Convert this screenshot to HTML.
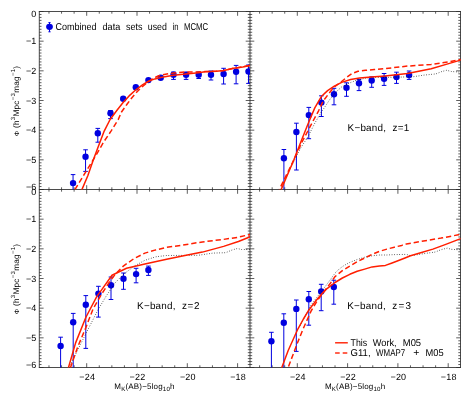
<!DOCTYPE html>
<html><head><meta charset="utf-8"><title>K-band luminosity function</title>
<style>
html,body{margin:0;padding:0;background:#fff;}
body{width:472px;height:393px;overflow:hidden;}
svg{display:block;}
text{font-family:"Liberation Sans",sans-serif;fill:#000;white-space:pre;text-rendering:geometricPrecision;}
</style></head><body>
<svg width="472" height="393" viewBox="0 0 472 393">
<rect width="472" height="393" fill="#fff"/>
<defs><filter id="gs" filterUnits="userSpaceOnUse" x="0" y="0" width="472" height="393" color-interpolation-filters="sRGB"><feColorMatrix type="saturate" values="0"/></filter>
<clipPath id="c0"><rect x="39.3" y="11.5" width="210.7" height="178.0"/></clipPath>
<clipPath id="c1"><rect x="250.0" y="11.5" width="210.5" height="178.0"/></clipPath>
<clipPath id="c2"><rect x="39.3" y="189.5" width="210.7" height="178.0"/></clipPath>
<clipPath id="c3"><rect x="250.0" y="189.5" width="210.5" height="178.0"/></clipPath>
</defs>
<path d="M39.30 11.50H43.60M39.30 14.47H41.50M39.30 17.43H41.50M39.30 20.40H41.50M39.30 23.37H41.50M39.30 26.33H41.50M39.30 29.30H41.50M39.30 32.27H41.50M39.30 35.23H41.50M39.30 38.20H41.50M39.30 41.17H43.60M39.30 44.13H41.50M39.30 47.10H41.50M39.30 50.07H41.50M39.30 53.03H41.50M39.30 56.00H41.50M39.30 58.97H41.50M39.30 61.93H41.50M39.30 64.90H41.50M39.30 67.87H41.50M39.30 70.83H43.60M39.30 73.80H41.50M39.30 76.77H41.50M39.30 79.73H41.50M39.30 82.70H41.50M39.30 85.67H41.50M39.30 88.63H41.50M39.30 91.60H41.50M39.30 94.57H41.50M39.30 97.53H41.50M39.30 100.50H43.60M39.30 103.47H41.50M39.30 106.43H41.50M39.30 109.40H41.50M39.30 112.37H41.50M39.30 115.33H41.50M39.30 118.30H41.50M39.30 121.27H41.50M39.30 124.23H41.50M39.30 127.20H41.50M39.30 130.17H43.60M39.30 133.13H41.50M39.30 136.10H41.50M39.30 139.07H41.50M39.30 142.03H41.50M39.30 145.00H41.50M39.30 147.97H41.50M39.30 150.93H41.50M39.30 153.90H41.50M39.30 156.87H41.50M39.30 159.83H43.60M39.30 162.80H41.50M39.30 165.77H41.50M39.30 168.73H41.50M39.30 171.70H41.50M39.30 174.67H41.50M39.30 177.63H41.50M39.30 180.60H41.50M39.30 183.57H41.50M39.30 186.53H41.50M39.30 189.50H43.60M245.70 11.50H254.30M247.80 14.47H252.20M247.80 17.43H252.20M247.80 20.40H252.20M247.80 23.37H252.20M247.80 26.33H252.20M247.80 29.30H252.20M247.80 32.27H252.20M247.80 35.23H252.20M247.80 38.20H252.20M245.70 41.17H254.30M247.80 44.13H252.20M247.80 47.10H252.20M247.80 50.07H252.20M247.80 53.03H252.20M247.80 56.00H252.20M247.80 58.97H252.20M247.80 61.93H252.20M247.80 64.90H252.20M247.80 67.87H252.20M245.70 70.83H254.30M247.80 73.80H252.20M247.80 76.77H252.20M247.80 79.73H252.20M247.80 82.70H252.20M247.80 85.67H252.20M247.80 88.63H252.20M247.80 91.60H252.20M247.80 94.57H252.20M247.80 97.53H252.20M245.70 100.50H254.30M247.80 103.47H252.20M247.80 106.43H252.20M247.80 109.40H252.20M247.80 112.37H252.20M247.80 115.33H252.20M247.80 118.30H252.20M247.80 121.27H252.20M247.80 124.23H252.20M247.80 127.20H252.20M245.70 130.17H254.30M247.80 133.13H252.20M247.80 136.10H252.20M247.80 139.07H252.20M247.80 142.03H252.20M247.80 145.00H252.20M247.80 147.97H252.20M247.80 150.93H252.20M247.80 153.90H252.20M247.80 156.87H252.20M245.70 159.83H254.30M247.80 162.80H252.20M247.80 165.77H252.20M247.80 168.73H252.20M247.80 171.70H252.20M247.80 174.67H252.20M247.80 177.63H252.20M247.80 180.60H252.20M247.80 183.57H252.20M247.80 186.53H252.20M245.70 189.50H254.30M456.20 11.50H460.50M458.30 14.47H460.50M458.30 17.43H460.50M458.30 20.40H460.50M458.30 23.37H460.50M458.30 26.33H460.50M458.30 29.30H460.50M458.30 32.27H460.50M458.30 35.23H460.50M458.30 38.20H460.50M456.20 41.17H460.50M458.30 44.13H460.50M458.30 47.10H460.50M458.30 50.07H460.50M458.30 53.03H460.50M458.30 56.00H460.50M458.30 58.97H460.50M458.30 61.93H460.50M458.30 64.90H460.50M458.30 67.87H460.50M456.20 70.83H460.50M458.30 73.80H460.50M458.30 76.77H460.50M458.30 79.73H460.50M458.30 82.70H460.50M458.30 85.67H460.50M458.30 88.63H460.50M458.30 91.60H460.50M458.30 94.57H460.50M458.30 97.53H460.50M456.20 100.50H460.50M458.30 103.47H460.50M458.30 106.43H460.50M458.30 109.40H460.50M458.30 112.37H460.50M458.30 115.33H460.50M458.30 118.30H460.50M458.30 121.27H460.50M458.30 124.23H460.50M458.30 127.20H460.50M456.20 130.17H460.50M458.30 133.13H460.50M458.30 136.10H460.50M458.30 139.07H460.50M458.30 142.03H460.50M458.30 145.00H460.50M458.30 147.97H460.50M458.30 150.93H460.50M458.30 153.90H460.50M458.30 156.87H460.50M456.20 159.83H460.50M458.30 162.80H460.50M458.30 165.77H460.50M458.30 168.73H460.50M458.30 171.70H460.50M458.30 174.67H460.50M458.30 177.63H460.50M458.30 180.60H460.50M458.30 183.57H460.50M458.30 186.53H460.50M456.20 189.50H460.50M39.30 189.50H43.60M39.30 192.47H41.50M39.30 195.43H41.50M39.30 198.40H41.50M39.30 201.37H41.50M39.30 204.33H41.50M39.30 207.30H41.50M39.30 210.27H41.50M39.30 213.23H41.50M39.30 216.20H41.50M39.30 219.17H43.60M39.30 222.13H41.50M39.30 225.10H41.50M39.30 228.07H41.50M39.30 231.03H41.50M39.30 234.00H41.50M39.30 236.97H41.50M39.30 239.93H41.50M39.30 242.90H41.50M39.30 245.87H41.50M39.30 248.83H43.60M39.30 251.80H41.50M39.30 254.77H41.50M39.30 257.73H41.50M39.30 260.70H41.50M39.30 263.67H41.50M39.30 266.63H41.50M39.30 269.60H41.50M39.30 272.57H41.50M39.30 275.53H41.50M39.30 278.50H43.60M39.30 281.47H41.50M39.30 284.43H41.50M39.30 287.40H41.50M39.30 290.37H41.50M39.30 293.33H41.50M39.30 296.30H41.50M39.30 299.27H41.50M39.30 302.23H41.50M39.30 305.20H41.50M39.30 308.17H43.60M39.30 311.13H41.50M39.30 314.10H41.50M39.30 317.07H41.50M39.30 320.03H41.50M39.30 323.00H41.50M39.30 325.97H41.50M39.30 328.93H41.50M39.30 331.90H41.50M39.30 334.87H41.50M39.30 337.83H43.60M39.30 340.80H41.50M39.30 343.77H41.50M39.30 346.73H41.50M39.30 349.70H41.50M39.30 352.67H41.50M39.30 355.63H41.50M39.30 358.60H41.50M39.30 361.57H41.50M39.30 364.53H41.50M39.30 367.50H43.60M245.70 189.50H254.30M247.80 192.47H252.20M247.80 195.43H252.20M247.80 198.40H252.20M247.80 201.37H252.20M247.80 204.33H252.20M247.80 207.30H252.20M247.80 210.27H252.20M247.80 213.23H252.20M247.80 216.20H252.20M245.70 219.17H254.30M247.80 222.13H252.20M247.80 225.10H252.20M247.80 228.07H252.20M247.80 231.03H252.20M247.80 234.00H252.20M247.80 236.97H252.20M247.80 239.93H252.20M247.80 242.90H252.20M247.80 245.87H252.20M245.70 248.83H254.30M247.80 251.80H252.20M247.80 254.77H252.20M247.80 257.73H252.20M247.80 260.70H252.20M247.80 263.67H252.20M247.80 266.63H252.20M247.80 269.60H252.20M247.80 272.57H252.20M247.80 275.53H252.20M245.70 278.50H254.30M247.80 281.47H252.20M247.80 284.43H252.20M247.80 287.40H252.20M247.80 290.37H252.20M247.80 293.33H252.20M247.80 296.30H252.20M247.80 299.27H252.20M247.80 302.23H252.20M247.80 305.20H252.20M245.70 308.17H254.30M247.80 311.13H252.20M247.80 314.10H252.20M247.80 317.07H252.20M247.80 320.03H252.20M247.80 323.00H252.20M247.80 325.97H252.20M247.80 328.93H252.20M247.80 331.90H252.20M247.80 334.87H252.20M245.70 337.83H254.30M247.80 340.80H252.20M247.80 343.77H252.20M247.80 346.73H252.20M247.80 349.70H252.20M247.80 352.67H252.20M247.80 355.63H252.20M247.80 358.60H252.20M247.80 361.57H252.20M247.80 364.53H252.20M245.70 367.50H254.30M456.20 189.50H460.50M458.30 192.47H460.50M458.30 195.43H460.50M458.30 198.40H460.50M458.30 201.37H460.50M458.30 204.33H460.50M458.30 207.30H460.50M458.30 210.27H460.50M458.30 213.23H460.50M458.30 216.20H460.50M456.20 219.17H460.50M458.30 222.13H460.50M458.30 225.10H460.50M458.30 228.07H460.50M458.30 231.03H460.50M458.30 234.00H460.50M458.30 236.97H460.50M458.30 239.93H460.50M458.30 242.90H460.50M458.30 245.87H460.50M456.20 248.83H460.50M458.30 251.80H460.50M458.30 254.77H460.50M458.30 257.73H460.50M458.30 260.70H460.50M458.30 263.67H460.50M458.30 266.63H460.50M458.30 269.60H460.50M458.30 272.57H460.50M458.30 275.53H460.50M456.20 278.50H460.50M458.30 281.47H460.50M458.30 284.43H460.50M458.30 287.40H460.50M458.30 290.37H460.50M458.30 293.33H460.50M458.30 296.30H460.50M458.30 299.27H460.50M458.30 302.23H460.50M458.30 305.20H460.50M456.20 308.17H460.50M458.30 311.13H460.50M458.30 314.10H460.50M458.30 317.07H460.50M458.30 320.03H460.50M458.30 323.00H460.50M458.30 325.97H460.50M458.30 328.93H460.50M458.30 331.90H460.50M458.30 334.87H460.50M456.20 337.83H460.50M458.30 340.80H460.50M458.30 343.77H460.50M458.30 346.73H460.50M458.30 349.70H460.50M458.30 352.67H460.50M458.30 355.63H460.50M458.30 358.60H460.50M458.30 361.57H460.50M458.30 364.53H460.50M456.20 367.50H460.50M48.98 11.50V13.70M61.55 11.50V13.70M74.12 11.50V13.70M86.70 11.50V15.80M99.28 11.50V13.70M111.85 11.50V13.70M124.42 11.50V13.70M137.00 11.50V15.80M149.57 11.50V13.70M162.15 11.50V13.70M174.72 11.50V13.70M187.30 11.50V15.80M199.88 11.50V13.70M212.45 11.50V13.70M225.02 11.50V13.70M237.60 11.50V15.80M48.98 187.30V191.70M61.55 187.30V191.70M74.12 187.30V191.70M86.70 185.20V193.80M99.28 187.30V191.70M111.85 187.30V191.70M124.42 187.30V191.70M137.00 185.20V193.80M149.57 187.30V191.70M162.15 187.30V191.70M174.72 187.30V191.70M187.30 185.20V193.80M199.88 187.30V191.70M212.45 187.30V191.70M225.02 187.30V191.70M237.60 185.20V193.80M48.98 365.30V367.50M61.55 365.30V367.50M74.12 365.30V367.50M86.70 363.20V367.50M99.28 365.30V367.50M111.85 365.30V367.50M124.42 365.30V367.50M137.00 363.20V367.50M149.57 365.30V367.50M162.15 365.30V367.50M174.72 365.30V367.50M187.30 363.20V367.50M199.88 365.30V367.50M212.45 365.30V367.50M225.02 365.30V367.50M237.60 363.20V367.50M259.58 11.50V13.70M272.15 11.50V13.70M284.73 11.50V13.70M297.30 11.50V15.80M309.88 11.50V13.70M322.45 11.50V13.70M335.02 11.50V13.70M347.60 11.50V15.80M360.18 11.50V13.70M372.75 11.50V13.70M385.32 11.50V13.70M397.90 11.50V15.80M410.48 11.50V13.70M423.05 11.50V13.70M435.62 11.50V13.70M448.20 11.50V15.80M259.58 187.30V191.70M272.15 187.30V191.70M284.73 187.30V191.70M297.30 185.20V193.80M309.88 187.30V191.70M322.45 187.30V191.70M335.02 187.30V191.70M347.60 185.20V193.80M360.18 187.30V191.70M372.75 187.30V191.70M385.32 187.30V191.70M397.90 185.20V193.80M410.48 187.30V191.70M423.05 187.30V191.70M435.62 187.30V191.70M448.20 185.20V193.80M259.58 365.30V367.50M272.15 365.30V367.50M284.73 365.30V367.50M297.30 363.20V367.50M309.88 365.30V367.50M322.45 365.30V367.50M335.02 365.30V367.50M347.60 363.20V367.50M360.18 365.30V367.50M372.75 365.30V367.50M385.32 365.30V367.50M397.90 363.20V367.50M410.48 365.30V367.50M423.05 365.30V367.50M435.62 365.30V367.50M448.20 363.20V367.50" fill="none" stroke="#2a2a2a" stroke-width="0.75"/>
<path d="M39.30 11.10V367.90M250.00 11.10V367.90M460.50 11.10V367.90M38.90 11.50H460.90M38.90 189.50H460.90M38.90 367.50H460.90" fill="none" stroke="#2a2a2a" stroke-width="0.85"/>
<g clip-path="url(#c0)">
<line x1="73.05" y1="174.60" x2="73.05" y2="195.00" stroke="#0000e0" stroke-width="1.0" />
<line x1="70.75" y1="174.60" x2="75.35" y2="174.60" stroke="#0000e0" stroke-width="1.0" />
<line x1="70.75" y1="195.00" x2="75.35" y2="195.00" stroke="#0000e0" stroke-width="1.0" />
<circle cx="73.05" cy="183.1" r="3.2" fill="#0000e0"/>
<line x1="85.55" y1="149.80" x2="85.55" y2="171.40" stroke="#0000e0" stroke-width="1.0" />
<line x1="83.25" y1="149.80" x2="87.85" y2="149.80" stroke="#0000e0" stroke-width="1.0" />
<line x1="83.25" y1="171.40" x2="87.85" y2="171.40" stroke="#0000e0" stroke-width="1.0" />
<circle cx="85.55" cy="156.8" r="3.2" fill="#0000e0"/>
<line x1="97.80" y1="128.40" x2="97.80" y2="142.20" stroke="#0000e0" stroke-width="1.0" />
<line x1="95.50" y1="128.40" x2="100.10" y2="128.40" stroke="#0000e0" stroke-width="1.0" />
<line x1="95.50" y1="142.20" x2="100.10" y2="142.20" stroke="#0000e0" stroke-width="1.0" />
<circle cx="97.8" cy="133.3" r="3.2" fill="#0000e0"/>
<line x1="110.50" y1="110.50" x2="110.50" y2="118.60" stroke="#0000e0" stroke-width="1.0" />
<line x1="108.20" y1="110.50" x2="112.80" y2="110.50" stroke="#0000e0" stroke-width="1.0" />
<line x1="108.20" y1="118.60" x2="112.80" y2="118.60" stroke="#0000e0" stroke-width="1.0" />
<circle cx="110.5" cy="113.3" r="3.2" fill="#0000e0"/>
<circle cx="123.2" cy="98.8" r="3.2" fill="#0000e0"/>
<circle cx="135.8" cy="87.3" r="3.2" fill="#0000e0"/>
<circle cx="148.4" cy="80.1" r="3.2" fill="#0000e0"/>
<circle cx="160.7" cy="77.7" r="3.2" fill="#0000e0"/>
<line x1="173.50" y1="72.00" x2="173.50" y2="79.40" stroke="#0000e0" stroke-width="1.0" />
<line x1="171.20" y1="72.00" x2="175.80" y2="72.00" stroke="#0000e0" stroke-width="1.0" />
<line x1="171.20" y1="79.40" x2="175.80" y2="79.40" stroke="#0000e0" stroke-width="1.0" />
<circle cx="173.5" cy="74.7" r="3.2" fill="#0000e0"/>
<line x1="186.10" y1="72.30" x2="186.10" y2="79.40" stroke="#0000e0" stroke-width="1.0" />
<line x1="183.80" y1="72.30" x2="188.40" y2="72.30" stroke="#0000e0" stroke-width="1.0" />
<line x1="183.80" y1="79.40" x2="188.40" y2="79.40" stroke="#0000e0" stroke-width="1.0" />
<circle cx="186.1" cy="74.8" r="3.2" fill="#0000e0"/>
<line x1="198.70" y1="72.00" x2="198.70" y2="78.50" stroke="#0000e0" stroke-width="1.0" />
<line x1="196.40" y1="72.00" x2="201.00" y2="72.00" stroke="#0000e0" stroke-width="1.0" />
<line x1="196.40" y1="78.50" x2="201.00" y2="78.50" stroke="#0000e0" stroke-width="1.0" />
<circle cx="198.7" cy="74.8" r="3.2" fill="#0000e0"/>
<line x1="211.00" y1="71.00" x2="211.00" y2="80.00" stroke="#0000e0" stroke-width="1.0" />
<line x1="208.70" y1="71.00" x2="213.30" y2="71.00" stroke="#0000e0" stroke-width="1.0" />
<line x1="208.70" y1="80.00" x2="213.30" y2="80.00" stroke="#0000e0" stroke-width="1.0" />
<circle cx="211.0" cy="74.7" r="3.2" fill="#0000e0"/>
<line x1="223.60" y1="68.30" x2="223.60" y2="84.00" stroke="#0000e0" stroke-width="1.0" />
<line x1="221.30" y1="68.30" x2="225.90" y2="68.30" stroke="#0000e0" stroke-width="1.0" />
<line x1="221.30" y1="84.00" x2="225.90" y2="84.00" stroke="#0000e0" stroke-width="1.0" />
<circle cx="223.6" cy="74.0" r="3.2" fill="#0000e0"/>
<line x1="236.10" y1="65.40" x2="236.10" y2="83.80" stroke="#0000e0" stroke-width="1.0" />
<line x1="233.80" y1="65.40" x2="238.40" y2="65.40" stroke="#0000e0" stroke-width="1.0" />
<line x1="233.80" y1="83.80" x2="238.40" y2="83.80" stroke="#0000e0" stroke-width="1.0" />
<circle cx="236.1" cy="71.7" r="3.2" fill="#0000e0"/>
<line x1="248.50" y1="65.00" x2="248.50" y2="83.40" stroke="#0000e0" stroke-width="1.0" />
<line x1="246.20" y1="65.00" x2="250.80" y2="65.00" stroke="#0000e0" stroke-width="1.0" />
<line x1="246.20" y1="83.40" x2="250.80" y2="83.40" stroke="#0000e0" stroke-width="1.0" />
<circle cx="248.5" cy="71.5" r="3.2" fill="#0000e0"/>
<path d="M74.9 189.6 L86.3 171.0 L96.0 155.3 L103.5 142.3 L111.0 131.1 L118.2 119.6 L121.5 112.0 L127.0 104.3 L131.5 98.2 L136.0 92.9 L140.5 88.3 L145.9 83.7 L152.0 79.1 L158.1 76.0 L164.2 74.5 L173.4 73.0 L182.0 72.2 L190.8 71.9 L198.5 71.9 L205.0 71.6 L216.4 71.2 L223.9 70.4 L233.6 68.3 L242.8 66.9 L249.6 65.4 L252.0 64.9" fill="none" stroke="#ff1e00" stroke-width="1.5" stroke-linejoin="round" stroke-dasharray="5.3 2.9" stroke-dashoffset="0"/>
<path d="M80.2 194.0 L81.9 189.6 L87.8 175.7 L93.0 160.8 L98.5 146.0 L104.2 131.1 L110.1 119.5 L116.8 110.5 L122.9 102.8 L129.1 95.9 L135.9 89.8 L142.8 84.7 L148.9 81.0 L155.0 78.9 L160.7 77.6 L173.4 75.3 L185.9 74.1 L198.5 72.8 L205.0 71.8 L216.4 71.2 L223.9 70.4 L233.6 68.3 L242.8 66.9 L249.6 65.4 L252.0 64.9" fill="none" stroke="#ff1e00" stroke-width="1.5" stroke-linejoin="round" />
</g>
<g clip-path="url(#c1)">
<line x1="283.90" y1="149.50" x2="283.90" y2="195.00" stroke="#0000e0" stroke-width="1.0" />
<line x1="281.60" y1="149.50" x2="286.20" y2="149.50" stroke="#0000e0" stroke-width="1.0" />
<line x1="281.60" y1="195.00" x2="286.20" y2="195.00" stroke="#0000e0" stroke-width="1.0" />
<circle cx="283.9" cy="158.2" r="3.2" fill="#0000e0"/>
<line x1="296.40" y1="123.20" x2="296.40" y2="170.00" stroke="#0000e0" stroke-width="1.0" />
<line x1="294.10" y1="123.20" x2="298.70" y2="123.20" stroke="#0000e0" stroke-width="1.0" />
<line x1="294.10" y1="170.00" x2="298.70" y2="170.00" stroke="#0000e0" stroke-width="1.0" />
<circle cx="296.4" cy="132.0" r="3.2" fill="#0000e0"/>
<line x1="308.80" y1="107.40" x2="308.80" y2="138.70" stroke="#0000e0" stroke-width="1.0" />
<line x1="306.50" y1="107.40" x2="311.10" y2="107.40" stroke="#0000e0" stroke-width="1.0" />
<line x1="306.50" y1="138.70" x2="311.10" y2="138.70" stroke="#0000e0" stroke-width="1.0" />
<circle cx="308.8" cy="115.1" r="3.2" fill="#0000e0"/>
<line x1="321.40" y1="95.80" x2="321.40" y2="116.50" stroke="#0000e0" stroke-width="1.0" />
<line x1="319.10" y1="95.80" x2="323.70" y2="95.80" stroke="#0000e0" stroke-width="1.0" />
<line x1="319.10" y1="116.50" x2="323.70" y2="116.50" stroke="#0000e0" stroke-width="1.0" />
<circle cx="321.4" cy="102.6" r="3.2" fill="#0000e0"/>
<line x1="334.00" y1="88.30" x2="334.00" y2="104.80" stroke="#0000e0" stroke-width="1.0" />
<line x1="331.70" y1="88.30" x2="336.30" y2="88.30" stroke="#0000e0" stroke-width="1.0" />
<line x1="331.70" y1="104.80" x2="336.30" y2="104.80" stroke="#0000e0" stroke-width="1.0" />
<circle cx="334.0" cy="94.3" r="3.2" fill="#0000e0"/>
<line x1="346.50" y1="82.80" x2="346.50" y2="96.30" stroke="#0000e0" stroke-width="1.0" />
<line x1="344.20" y1="82.80" x2="348.80" y2="82.80" stroke="#0000e0" stroke-width="1.0" />
<line x1="344.20" y1="96.30" x2="348.80" y2="96.30" stroke="#0000e0" stroke-width="1.0" />
<circle cx="346.5" cy="87.7" r="3.2" fill="#0000e0"/>
<line x1="359.00" y1="79.40" x2="359.00" y2="90.60" stroke="#0000e0" stroke-width="1.0" />
<line x1="356.70" y1="79.40" x2="361.30" y2="79.40" stroke="#0000e0" stroke-width="1.0" />
<line x1="356.70" y1="90.60" x2="361.30" y2="90.60" stroke="#0000e0" stroke-width="1.0" />
<circle cx="359" cy="83.2" r="3.2" fill="#0000e0"/>
<line x1="371.70" y1="76.80" x2="371.70" y2="87.30" stroke="#0000e0" stroke-width="1.0" />
<line x1="369.40" y1="76.80" x2="374.00" y2="76.80" stroke="#0000e0" stroke-width="1.0" />
<line x1="369.40" y1="87.30" x2="374.00" y2="87.30" stroke="#0000e0" stroke-width="1.0" />
<circle cx="371.7" cy="80.5" r="3.2" fill="#0000e0"/>
<line x1="384.10" y1="73.50" x2="384.10" y2="85.40" stroke="#0000e0" stroke-width="1.0" />
<line x1="381.80" y1="73.50" x2="386.40" y2="73.50" stroke="#0000e0" stroke-width="1.0" />
<line x1="381.80" y1="85.40" x2="386.40" y2="85.40" stroke="#0000e0" stroke-width="1.0" />
<circle cx="384.1" cy="78.7" r="3.2" fill="#0000e0"/>
<line x1="396.50" y1="72.20" x2="396.50" y2="83.40" stroke="#0000e0" stroke-width="1.0" />
<line x1="394.20" y1="72.20" x2="398.80" y2="72.20" stroke="#0000e0" stroke-width="1.0" />
<line x1="394.20" y1="83.40" x2="398.80" y2="83.40" stroke="#0000e0" stroke-width="1.0" />
<circle cx="396.5" cy="77" r="3.2" fill="#0000e0"/>
<line x1="409.10" y1="71.00" x2="409.10" y2="79.40" stroke="#0000e0" stroke-width="1.0" />
<line x1="406.80" y1="71.00" x2="411.40" y2="71.00" stroke="#0000e0" stroke-width="1.0" />
<line x1="406.80" y1="79.40" x2="411.40" y2="79.40" stroke="#0000e0" stroke-width="1.0" />
<circle cx="409.1" cy="75.1" r="3.2" fill="#0000e0"/>
<path d="M280.5 189.5 L287.0 175.0 L294.5 160.0 L301.0 147.5 L308.1 136.5 L314.8 123.2 L321.5 111.7 L323.9 108.4 L329.8 99.5 L335.8 92.1 L341.7 86.9 L349.1 83.2 L356.5 80.2 L365.4 78.2 L374.3 77.4 L384.0 77.4 L396.5 77.2 L413.4 76.7 L424.1 75.1 L435.9 73.9 L441.9 71.5 L446.6 70.3 L451.4 71.5 L458.5 72.0 L461.0 72.0" fill="none" stroke="#111" stroke-width="0.9" stroke-linejoin="round" stroke-dasharray="0.7 1.85" stroke-linecap="butt"/>
<path d="M279.3 189.5 L293.8 160.0 L301.5 143.0 L311.9 123.2 L318.6 110.8 L323.2 101.0 L328.3 94.3 L334.3 86.9 L341.0 82.0 L346.9 77.2 L352.1 73.5 L358.0 71.3 L365.4 70.3 L374.3 69.6 L385.0 68.6 L407.5 66.1 L431.2 64.4 L447.8 62.0 L459.7 59.7 L462.0 59.3" fill="none" stroke="#ff1e00" stroke-width="1.5" stroke-linejoin="round" stroke-dasharray="5.2 2.9" stroke-dashoffset="-3.5"/>
<path d="M279.3 194.0 L281.2 189.5 L293.8 160.0 L301.5 140.3 L309.1 121.3 L314.8 107.9 L321.6 96.2 L327.6 90.6 L334.3 86.1 L341.7 82.4 L350.6 79.5 L359.5 78.0 L371.4 76.9 L385.0 76.0 L407.5 73.4 L431.2 68.7 L447.8 63.9 L459.7 60.4 L462.0 59.7" fill="none" stroke="#ff1e00" stroke-width="1.5" stroke-linejoin="round" />
</g>
<g clip-path="url(#c2)">
<line x1="60.60" y1="337.20" x2="60.60" y2="375.00" stroke="#0000e0" stroke-width="1.0" />
<line x1="58.30" y1="337.20" x2="62.90" y2="337.20" stroke="#0000e0" stroke-width="1.0" />
<line x1="58.30" y1="375.00" x2="62.90" y2="375.00" stroke="#0000e0" stroke-width="1.0" />
<circle cx="60.6" cy="346" r="3.2" fill="#0000e0"/>
<line x1="73.20" y1="313.40" x2="73.20" y2="375.00" stroke="#0000e0" stroke-width="1.0" />
<line x1="70.90" y1="313.40" x2="75.50" y2="313.40" stroke="#0000e0" stroke-width="1.0" />
<line x1="70.90" y1="375.00" x2="75.50" y2="375.00" stroke="#0000e0" stroke-width="1.0" />
<circle cx="73.2" cy="322.2" r="3.2" fill="#0000e0"/>
<line x1="85.80" y1="295.60" x2="85.80" y2="348.40" stroke="#0000e0" stroke-width="1.0" />
<line x1="83.50" y1="295.60" x2="88.10" y2="295.60" stroke="#0000e0" stroke-width="1.0" />
<line x1="83.50" y1="348.40" x2="88.10" y2="348.40" stroke="#0000e0" stroke-width="1.0" />
<circle cx="85.8" cy="304.7" r="3.2" fill="#0000e0"/>
<line x1="98.40" y1="286.30" x2="98.40" y2="317.10" stroke="#0000e0" stroke-width="1.0" />
<line x1="96.10" y1="286.30" x2="100.70" y2="286.30" stroke="#0000e0" stroke-width="1.0" />
<line x1="96.10" y1="317.10" x2="100.70" y2="317.10" stroke="#0000e0" stroke-width="1.0" />
<circle cx="98.4" cy="293.6" r="3.2" fill="#0000e0"/>
<line x1="111.00" y1="277.00" x2="111.00" y2="299.50" stroke="#0000e0" stroke-width="1.0" />
<line x1="108.70" y1="277.00" x2="113.30" y2="277.00" stroke="#0000e0" stroke-width="1.0" />
<line x1="108.70" y1="299.50" x2="113.30" y2="299.50" stroke="#0000e0" stroke-width="1.0" />
<circle cx="111" cy="285.2" r="3.2" fill="#0000e0"/>
<line x1="123.50" y1="273.00" x2="123.50" y2="289.30" stroke="#0000e0" stroke-width="1.0" />
<line x1="121.20" y1="273.00" x2="125.80" y2="273.00" stroke="#0000e0" stroke-width="1.0" />
<line x1="121.20" y1="289.30" x2="125.80" y2="289.30" stroke="#0000e0" stroke-width="1.0" />
<circle cx="123.5" cy="278.7" r="3.2" fill="#0000e0"/>
<line x1="136.10" y1="268.30" x2="136.10" y2="282.80" stroke="#0000e0" stroke-width="1.0" />
<line x1="133.80" y1="268.30" x2="138.40" y2="268.30" stroke="#0000e0" stroke-width="1.0" />
<line x1="133.80" y1="282.80" x2="138.40" y2="282.80" stroke="#0000e0" stroke-width="1.0" />
<circle cx="136.1" cy="274.1" r="3.2" fill="#0000e0"/>
<line x1="148.40" y1="266.10" x2="148.40" y2="275.40" stroke="#0000e0" stroke-width="1.0" />
<line x1="146.10" y1="266.10" x2="150.70" y2="266.10" stroke="#0000e0" stroke-width="1.0" />
<line x1="146.10" y1="275.40" x2="150.70" y2="275.40" stroke="#0000e0" stroke-width="1.0" />
<circle cx="148.4" cy="270" r="3.2" fill="#0000e0"/>
<path d="M69.5 367.5 L73.6 358.2 L85.8 333.8 L98.0 309.8 L106.0 296.4 L114.6 283.4 L123.3 274.5 L134.1 266.2 L144.9 260.3 L155.8 256.8 L166.6 255.5 L198.1 255.3 L213.0 253.1 L225.7 252.7 L232.0 250.0 L237.3 248.5 L241.6 249.5 L250.0 249.5" fill="none" stroke="#111" stroke-width="0.9" stroke-linejoin="round" stroke-dasharray="0.7 1.85" stroke-linecap="butt"/>
<path d="M68.7 373.0 L70.5 367.5 L77.7 347.0 L85.8 327.7 L93.0 309.0 L101.8 293.8 L109.2 282.4 L115.7 273.7 L123.3 266.1 L134.1 258.5 L144.9 253.1 L155.8 249.9 L166.6 247.3 L181.2 245.3 L202.4 241.9 L223.6 239.4 L238.4 237.2 L249.0 234.7 L252.0 234.0" fill="none" stroke="#ff1e00" stroke-width="1.5" stroke-linejoin="round" stroke-dasharray="5.3 2.9" stroke-dashoffset="2.9"/>
<path d="M67.0 373.0 L68.5 367.5 L75.6 342.9 L85.8 317.5 L89.7 310.0 L97.0 296.1 L101.6 289.9 L112.0 275.2 L126.5 268.3 L144.9 264.0 L166.6 259.2 L181.2 256.3 L202.4 252.1 L223.6 246.4 L238.4 241.5 L249.0 237.2 L252.0 236.0" fill="none" stroke="#ff1e00" stroke-width="1.5" stroke-linejoin="round" />
</g>
<g clip-path="url(#c3)">
<line x1="271.40" y1="332.30" x2="271.40" y2="375.00" stroke="#0000e0" stroke-width="1.0" />
<line x1="269.10" y1="332.30" x2="273.70" y2="332.30" stroke="#0000e0" stroke-width="1.0" />
<line x1="269.10" y1="375.00" x2="273.70" y2="375.00" stroke="#0000e0" stroke-width="1.0" />
<circle cx="271.4" cy="341.2" r="3.2" fill="#0000e0"/>
<line x1="283.80" y1="313.80" x2="283.80" y2="375.00" stroke="#0000e0" stroke-width="1.0" />
<line x1="281.50" y1="313.80" x2="286.10" y2="313.80" stroke="#0000e0" stroke-width="1.0" />
<line x1="281.50" y1="375.00" x2="286.10" y2="375.00" stroke="#0000e0" stroke-width="1.0" />
<circle cx="283.8" cy="322.7" r="3.2" fill="#0000e0"/>
<line x1="296.30" y1="300.00" x2="296.30" y2="351.40" stroke="#0000e0" stroke-width="1.0" />
<line x1="294.00" y1="300.00" x2="298.60" y2="300.00" stroke="#0000e0" stroke-width="1.0" />
<line x1="294.00" y1="351.40" x2="298.60" y2="351.40" stroke="#0000e0" stroke-width="1.0" />
<circle cx="296.3" cy="308.9" r="3.2" fill="#0000e0"/>
<line x1="308.80" y1="291.50" x2="308.80" y2="325.20" stroke="#0000e0" stroke-width="1.0" />
<line x1="306.50" y1="291.50" x2="311.10" y2="291.50" stroke="#0000e0" stroke-width="1.0" />
<line x1="306.50" y1="325.20" x2="311.10" y2="325.20" stroke="#0000e0" stroke-width="1.0" />
<circle cx="308.8" cy="299.3" r="3.2" fill="#0000e0"/>
<line x1="321.20" y1="284.30" x2="321.20" y2="310.70" stroke="#0000e0" stroke-width="1.0" />
<line x1="318.90" y1="284.30" x2="323.50" y2="284.30" stroke="#0000e0" stroke-width="1.0" />
<line x1="318.90" y1="310.70" x2="323.50" y2="310.70" stroke="#0000e0" stroke-width="1.0" />
<circle cx="321.2" cy="291.5" r="3.2" fill="#0000e0"/>
<line x1="333.80" y1="280.20" x2="333.80" y2="304.20" stroke="#0000e0" stroke-width="1.0" />
<line x1="331.50" y1="280.20" x2="336.10" y2="280.20" stroke="#0000e0" stroke-width="1.0" />
<line x1="331.50" y1="304.20" x2="336.10" y2="304.20" stroke="#0000e0" stroke-width="1.0" />
<circle cx="333.8" cy="287" r="3.2" fill="#0000e0"/>
<path d="M300.0 326.0 L306.0 314.5 L311.1 305.1 L315.2 299.5 L320.3 292.9 L325.4 286.3 L330.4 279.6 L335.0 273.2 L339.4 268.8 L343.9 265.6 L349.8 262.4 L357.2 259.5 L364.7 257.2 L372.1 255.8 L379.5 255.0 L386.9 255.0 L394.3 254.6 L406.5 254.4 L410.5 255.8 L426.8 253.2 L435.0 252.1 L441.1 249.7 L447.2 248.1 L451.2 249.3 L457.3 249.7 L461.0 249.7" fill="none" stroke="#111" stroke-width="0.9" stroke-linejoin="round" stroke-dasharray="0.7 1.85" stroke-linecap="butt"/>
<path d="M288.2 367.5 L297.1 343.8 L303.5 328.0 L311.1 311.0 L318.0 299.5 L325.4 289.8 L330.4 283.2 L335.0 276.6 L342.4 270.6 L349.8 266.1 L357.2 261.7 L364.7 258.0 L372.1 254.3 L379.5 251.3 L386.9 249.1 L394.3 247.2 L401.7 245.4 L406.5 243.9 L420.7 241.5 L441.1 238.1 L458.4 234.8 L462.0 234.1" fill="none" stroke="#ff1e00" stroke-width="1.5" stroke-linejoin="round" stroke-dasharray="5.3 2.9" stroke-dashoffset="-1.0"/>
<path d="M280.0 373.0 L281.8 367.5 L288.2 350.5 L293.6 338.5 L298.0 328.8 L303.4 319.0 L309.1 309.7 L315.2 301.6 L321.3 294.4 L327.4 288.3 L335.0 282.5 L342.4 278.0 L349.8 274.3 L357.2 271.3 L364.7 269.1 L372.1 266.9 L379.5 266.1 L385.4 265.4 L391.4 263.2 L397.3 261.0 L405.0 258.0 L410.5 255.8 L420.7 252.7 L432.9 249.1 L445.1 244.6 L459.4 239.1 L462.0 238.1" fill="none" stroke="#ff1e00" stroke-width="1.5" stroke-linejoin="round" />
</g>
<g filter="url(#gs)">
<text x="36.20" y="17.40" font-size="9.0" text-anchor="end" >0</text>
<text x="36.20" y="44.37" font-size="9.0" text-anchor="end" >&#8722;1</text>
<text x="36.20" y="74.03" font-size="9.0" text-anchor="end" >&#8722;2</text>
<text x="36.20" y="103.70" font-size="9.0" text-anchor="end" >&#8722;3</text>
<text x="36.20" y="133.37" font-size="9.0" text-anchor="end" >&#8722;4</text>
<text x="36.20" y="163.03" font-size="9.0" text-anchor="end" >&#8722;5</text>
<text x="36.20" y="190.10" font-size="9.0" text-anchor="end" >&#8722;6</text>
<text x="36.20" y="195.40" font-size="9.0" text-anchor="end" >0</text>
<text x="36.20" y="222.37" font-size="9.0" text-anchor="end" >&#8722;1</text>
<text x="36.20" y="252.03" font-size="9.0" text-anchor="end" >&#8722;2</text>
<text x="36.20" y="281.70" font-size="9.0" text-anchor="end" >&#8722;3</text>
<text x="36.20" y="311.37" font-size="9.0" text-anchor="end" >&#8722;4</text>
<text x="36.20" y="341.03" font-size="9.0" text-anchor="end" >&#8722;5</text>
<text x="36.20" y="368.10" font-size="9.0" text-anchor="end" >&#8722;6</text>
<text x="87.10" y="380.40" font-size="9.0" text-anchor="middle" textLength="15.6" lengthAdjust="spacing" >&#8722;24</text>
<text x="137.40" y="380.40" font-size="9.0" text-anchor="middle" textLength="15.6" lengthAdjust="spacing" >&#8722;22</text>
<text x="187.70" y="380.40" font-size="9.0" text-anchor="middle" textLength="15.6" lengthAdjust="spacing" >&#8722;20</text>
<text x="238.00" y="380.40" font-size="9.0" text-anchor="middle" textLength="15.6" lengthAdjust="spacing" >&#8722;18</text>
<text x="297.70" y="380.40" font-size="9.0" text-anchor="middle" textLength="15.6" lengthAdjust="spacing" >&#8722;24</text>
<text x="348.00" y="380.40" font-size="9.0" text-anchor="middle" textLength="15.6" lengthAdjust="spacing" >&#8722;22</text>
<text x="398.30" y="380.40" font-size="9.0" text-anchor="middle" textLength="15.6" lengthAdjust="spacing" >&#8722;20</text>
<text x="448.60" y="380.40" font-size="9.0" text-anchor="middle" textLength="15.6" lengthAdjust="spacing" >&#8722;18</text>
<text x="114.35" y="389.4" font-size="8.0" textLength="60.2" lengthAdjust="spacing">M<tspan font-size="6.2" dy="1.8">K</tspan><tspan dy="-1.8">(AB)&#8722;5log</tspan><tspan font-size="6.2" dy="1.8">10</tspan><tspan dy="-1.8">h</tspan></text>
<text x="324.95" y="389.4" font-size="8.0" textLength="60.2" lengthAdjust="spacing">M<tspan font-size="6.2" dy="1.8">K</tspan><tspan dy="-1.8">(AB)&#8722;5log</tspan><tspan font-size="6.2" dy="1.8">10</tspan><tspan dy="-1.8">h</tspan></text>
<g transform="translate(19.0,136.10) rotate(-90)"><text x="0" y="0" font-size="8.2" textLength="70.2" lengthAdjust="spacing"><tspan font-size="6.5">&#934;</tspan> (h<tspan font-size="6" dy="-3.6">3</tspan><tspan dy="3.6">Mpc</tspan><tspan font-size="6" dy="-3.6">&#8722;3</tspan><tspan dy="3.6">mag</tspan><tspan font-size="6" dy="-3.6">&#8722;1</tspan><tspan dy="3.6">)</tspan></text></g>
<g transform="translate(19.0,314.10) rotate(-90)"><text x="0" y="0" font-size="8.2" textLength="70.2" lengthAdjust="spacing"><tspan font-size="6.5">&#934;</tspan> (h<tspan font-size="6" dy="-3.6">3</tspan><tspan dy="3.6">Mpc</tspan><tspan font-size="6" dy="-3.6">&#8722;3</tspan><tspan dy="3.6">mag</tspan><tspan font-size="6" dy="-3.6">&#8722;1</tspan><tspan dy="3.6">)</tspan></text></g>
<text x="347.60" y="131.10" font-size="9.9" textLength="38.4" lengthAdjust="spacing">K&#8722;band,</text>
<text x="392.50" y="131.10" font-size="9.9" textLength="16.7" lengthAdjust="spacing">z=1</text>
<text x="137.10" y="309.00" font-size="9.9" textLength="38.4" lengthAdjust="spacing">K&#8722;band,</text>
<text x="182.00" y="309.00" font-size="9.9" textLength="17.5" lengthAdjust="spacing">z=2</text>
<text x="347.30" y="309.10" font-size="9.9" textLength="38.4" lengthAdjust="spacing">K&#8722;band,</text>
<text x="392.20" y="309.10" font-size="9.9" textLength="18.7" lengthAdjust="spacing">z=3</text>
<text x="55.60" y="30.00" font-size="9.9" textLength="41.0" lengthAdjust="spacingAndGlyphs">Combined</text>
<text x="102.50" y="30.00" font-size="9.9" textLength="17.8" lengthAdjust="spacingAndGlyphs">data</text>
<text x="126.00" y="30.00" font-size="9.9" textLength="16.5" lengthAdjust="spacingAndGlyphs">sets</text>
<text x="147.80" y="30.00" font-size="9.9" textLength="19.1" lengthAdjust="spacingAndGlyphs">used</text>
<text x="172.60" y="30.00" font-size="9.9" textLength="6.0" lengthAdjust="spacingAndGlyphs">in</text>
<text x="183.90" y="30.00" font-size="9.9" textLength="24.3" lengthAdjust="spacingAndGlyphs">MCMC</text>
<text x="350.60" y="345.60" font-size="9.9" textLength="16.6" lengthAdjust="spacingAndGlyphs">This</text>
<text x="372.80" y="345.60" font-size="9.9" textLength="23.8" lengthAdjust="spacingAndGlyphs">Work,</text>
<text x="402.80" y="345.60" font-size="9.9" textLength="18.3" lengthAdjust="spacingAndGlyphs">M05</text>
<text x="350.60" y="356.00" font-size="9.9" textLength="20.0" lengthAdjust="spacingAndGlyphs">G11,</text>
<text x="376.10" y="356.00" font-size="9.9" textLength="29.0" lengthAdjust="spacingAndGlyphs">WMAP7</text>
<text x="416.35" y="356.30" font-size="10.5" text-anchor="middle" >+</text>
<text x="425.50" y="356.00" font-size="9.9" textLength="18.1" lengthAdjust="spacingAndGlyphs">M05</text>
</g>
<line x1="49.50" y1="22.60" x2="49.50" y2="31.80" stroke="#0000e0" stroke-width="1.0" />
<line x1="48.40" y1="22.60" x2="50.60" y2="22.60" stroke="#0000e0" stroke-width="1.0" />
<line x1="48.40" y1="31.80" x2="50.60" y2="31.80" stroke="#0000e0" stroke-width="1.0" />
<ellipse cx="49.5" cy="26.8" rx="3.4" ry="3.1" fill="#0000e0"/>
<line x1="335.10" y1="342.80" x2="347.80" y2="342.80" stroke="#ff1e00" stroke-width="1.4" />
<line x1="335.10" y1="353.00" x2="339.70" y2="353.00" stroke="#ff1e00" stroke-width="1.4" />
<line x1="342.70" y1="353.00" x2="347.30" y2="353.00" stroke="#ff1e00" stroke-width="1.4" />
</svg>
</body></html>
